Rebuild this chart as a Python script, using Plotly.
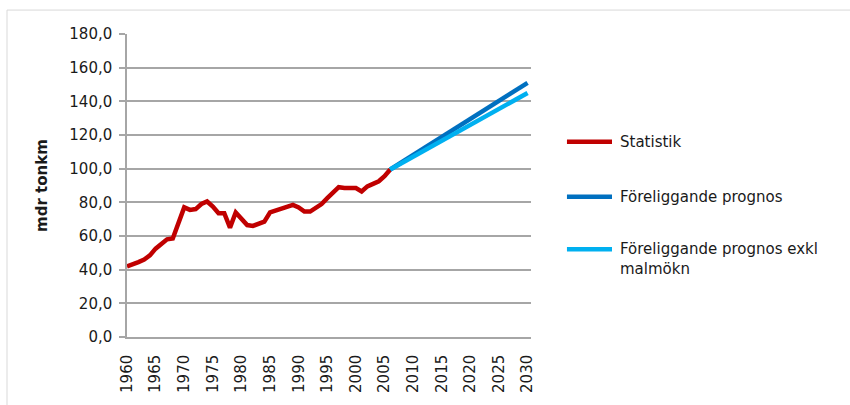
import plotly.graph_objects as go

# Godstransporter, miljarder tonkm
stat_years = list(range(1960, 2007))
stat_values = [
    42.0, 43.0, 44.5, 46.0, 48.5, 52.5, 55.5, 58.0, 58.5, 68.0,
    77.0, 75.5, 76.0, 79.0, 80.5, 77.5, 73.5, 73.5, 65.0, 74.0,
    70.0, 66.5, 66.0, 67.0, 68.5, 74.0, 75.0, 76.0, 77.0, 78.5,
    77.0, 74.5, 74.5, 76.5, 79.0, 82.5, 86.0, 89.0, 88.5, 88.5,
    88.5, 86.5, 89.5, 91.0, 92.5, 95.5, 99.5,
]

prog_years = [2006, 2030]
prog_values = [99.5, 151.0]
prog_exkl_values = [99.5, 145.0]

series_names = ["Statistik", "Föreliggande prognos", "Föreliggande prognos exkl<br>malmökn"]
series_colors = ["#c00000", "#0070c0", "#00b0f0"]

x_ticks = list(range(1960, 2031, 5))

FONT = "DejaVu Sans"
TXT = "#1a1a1a"

fig = go.Figure()
fig.add_trace(go.Scatter(x=stat_years, y=stat_values, mode="lines", name=series_names[0],
                         line=dict(color=series_colors[0], width=4.5)))
fig.add_trace(go.Scatter(x=prog_years, y=prog_values, mode="lines", name=series_names[1],
                         line=dict(color=series_colors[1], width=4.5)))
fig.add_trace(go.Scatter(x=prog_years, y=prog_exkl_values, mode="lines", name=series_names[2],
                         line=dict(color=series_colors[2], width=4.5)))

fig.update_layout(
    width=850, height=405,
    margin=dict(l=127, r=319, t=34, b=62, pad=0),
    paper_bgcolor="white", plot_bgcolor="white",
    separators=", ",
    font=dict(family=FONT, size=15, color=TXT),
    showlegend=False,
    xaxis=dict(range=[1960, 2030.6], tickmode="array", tickvals=x_ticks,
               ticktext=[str(v) for v in x_ticks], tickangle=-90,
               showgrid=False, zeroline=False, showline=True,
               linecolor="#a6a6a6", linewidth=1.5, ticks="",
               ticklabelstandoff=10,
               tickfont=dict(family=FONT, size=15, color=TXT)),
    yaxis=dict(range=[0, 180], dtick=20, tickformat=".1f",
               showgrid=True, gridcolor="#a6a6a6", gridwidth=1.5,
               zeroline=False, showline=True, linecolor="#a6a6a6", linewidth=1.5,
               ticks="outside", ticklen=6, tickcolor="#a6a6a6", tickwidth=1.5,
               ticklabelstandoff=4,
               title=dict(text="<b>mdr tonkm</b>", standoff=18,
                          font=dict(family=FONT, size=15, color=TXT)),
               tickfont=dict(family=FONT, size=15, color=TXT)),
)

# legend drawn beside the plot: line swatch + label for each series
legend_rows = [0.644, 0.463, 0.290]
label_rows = [0.644, 0.463, 0.258]
for name, color, ly, ty in zip(series_names, series_colors, legend_rows, label_rows):
    fig.add_shape(type="line", xref="paper", yref="paper",
                  x0=1.089, x1=1.2005, y0=ly, y1=ly,
                  line=dict(color=color, width=4.5))
    fig.add_annotation(xref="paper", yref="paper", x=1.2153, y=ty,
                       xanchor="left", yanchor="middle", align="left",
                       text=name, showarrow=False,
                       font=dict(family=FONT, size=15, color=TXT))

# outer chart frame
fig.add_shape(type="rect", xref="paper", yref="paper",
              x0=-0.297, y0=-0.25, x1=1.85, y1=1.079,
              line=dict(color="#d9d9d9", width=1), layer="below")

fig.write_html("out.html")
